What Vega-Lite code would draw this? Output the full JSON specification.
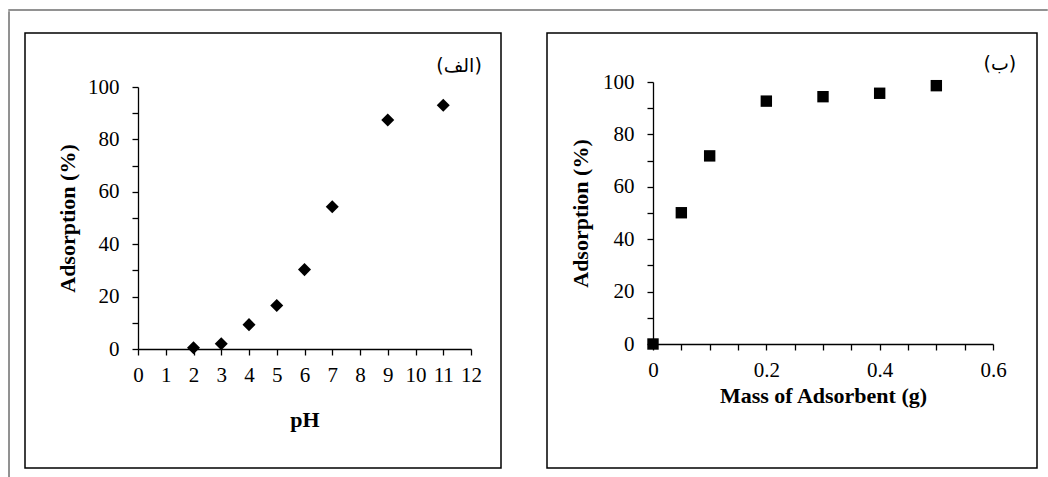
{
  "$schema": "https://vega.github.io/schema/vega-lite/v6.json",
  "padding": {"left": 8, "top": 9, "right": 0, "bottom": 0},
  "background": "white",
  "spacing": 0,
  "config": {
    "view": {"stroke": "black", "strokeWidth": 1.5},
    "axis": {
      "labelFont": "Liberation Serif", "titleFont": "Liberation Serif",
      "labelFontSize": 21, "titleFontSize": 22, "titleFontWeight": "bold",
      "labelColor": "black", "titleColor": "black", "domainColor": "black", "tickColor": "black",
      "grid": false, "tickSize": 6, "domainWidth": 1.3, "tickWidth": 1.3,
      "labelOverlap": false, "labelFlush": false
    }
  },
  "vconcat": [
    {
      "width": 1038, "height": 0.01,
      "data": {"values": []},
      "mark": "point",
      "view": {"stroke": "#6e6e6e", "strokeWidth": 1.5}
    },
    {
      "spacing": 14,
      "hconcat": [
        {
          "width": 0.01, "height": 465,
          "data": {"values": []},
          "mark": "point",
          "view": {"stroke": "#6e6e6e", "strokeWidth": 1.5}
        },
        {
          "spacing": 19,
          "vconcat": [
            {
              "width": 1, "height": 1,
              "data": {"values": []},
              "mark": "point",
              "view": {"stroke": null}
            },
            {
              "spacing": 44,
              "hconcat": [
                {
                  "width": 476, "height": 435,
                  "resolve": {"scale": {"x": "independent", "y": "independent"}, "axis": {"x": "independent", "y": "independent"}},
                  "layer": [
                    {
                      "data": {"values": [
                        {"pH": 2, "adsorption": 0.5},
                        {"pH": 3, "adsorption": 2.0},
                        {"pH": 4, "adsorption": 9.3},
                        {"pH": 5, "adsorption": 16.6},
                        {"pH": 6, "adsorption": 30.3},
                        {"pH": 7, "adsorption": 54.3},
                        {"pH": 9, "adsorption": 87.4},
                        {"pH": 11, "adsorption": 93.0}
                      ]},
                      "mark": {"type": "point", "shape": "diamond", "filled": true, "color": "black", "size": 170, "opacity": 1},
                      "encoding": {
                        "x": {"field": "pH", "type": "quantitative",
                          "scale": {"domain": [0, 12], "range": [113, 446], "nice": false, "zero": false},
                          "axis": {"title": "pH", "orient": "bottom", "values": [0,1,2,3,4,5,6,7,8,9,10,11,12], "offset": -119, "labelPadding": 9, "titlePadding": 24, "labelOverlap": false, "labelFlush": false}},
                        "y": {"field": "adsorption", "type": "quantitative",
                          "scale": {"domain": [0, 100], "range": [316, 54], "nice": false},
                          "axis": {"title": "Adsorption (%)", "orient": "left", "values": [0,10,20,30,40,50,60,70,80,90,100],
                            "labelExpr": "datum.value % 20 === 0 ? format(datum.value, 'd') : ''",
                            "offset": -113, "labelPadding": 13, "titlePadding": 8, "labelOverlap": false, "labelFlush": false}}
                      }
                    },
                    {
                      "data": {"values": [{}]},
                      "mark": {"type": "text", "text": "(الف)", "font": "DejaVu Sans", "fontSize": 19, "align": "right", "baseline": "middle", "color": "black"},
                      "encoding": {
                        "x": {"datum": 12.39, "type": "quantitative", "scale": {"domain": [0, 12], "range": [113, 446], "nice": false, "zero": false}, "axis": null},
                        "y": {"datum": 108, "type": "quantitative", "scale": {"domain": [0, 100], "range": [316, 54], "nice": false}, "axis": null}
                      }
                    }
                  ]
                },
                {
                  "width": 490, "height": 435,
                  "resolve": {"scale": {"x": "independent", "y": "independent"}, "axis": {"x": "independent", "y": "independent"}},
                  "layer": [
                    {
                      "data": {"values": [
                        {"mass": 0, "adsorption": 0},
                        {"mass": 0.05, "adsorption": 50.1},
                        {"mass": 0.1, "adsorption": 71.8},
                        {"mass": 0.2, "adsorption": 92.7},
                        {"mass": 0.3, "adsorption": 94.4},
                        {"mass": 0.4, "adsorption": 95.7},
                        {"mass": 0.5, "adsorption": 98.6}
                      ]},
                      "mark": {"type": "point", "shape": "square", "filled": true, "color": "black", "size": 130, "opacity": 1},
                      "encoding": {
                        "x": {"field": "mass", "type": "quantitative",
                          "scale": {"domain": [0, 0.6], "range": [106, 446], "nice": false, "zero": false},
                          "axis": {"title": "Mass of Adsorbent (g)", "orient": "bottom", "values": [0,0.05,0.1,0.15,0.2,0.25,0.3,0.35,0.4,0.45,0.5,0.55,0.6],
                            "labelExpr": "abs(datum.value * 5 - round(datum.value * 5)) < 0.001 ? format(datum.value, '.1~f') : ''",
                            "offset": -124, "labelPadding": 9, "titlePadding": 5, "labelOverlap": false, "labelFlush": false}},
                        "y": {"field": "adsorption", "type": "quantitative",
                          "scale": {"domain": [0, 100], "range": [311, 49], "nice": false},
                          "axis": {"title": "Adsorption (%)", "orient": "left", "values": [0,10,20,30,40,50,60,70,80,90,100],
                            "labelExpr": "datum.value % 20 === 0 ? format(datum.value, 'd') : ''",
                            "offset": -106, "labelPadding": 13, "titlePadding": 10, "labelOverlap": false, "labelFlush": false}}
                      }
                    },
                    {
                      "data": {"values": [{}]},
                      "mark": {"type": "text", "text": "(ب)", "font": "DejaVu Sans", "fontSize": 19, "align": "right", "baseline": "middle", "color": "black"},
                      "encoding": {
                        "x": {"datum": 0.641, "type": "quantitative", "scale": {"domain": [0, 0.6], "range": [106, 446], "nice": false, "zero": false}, "axis": null},
                        "y": {"datum": 107, "type": "quantitative", "scale": {"domain": [0, 100], "range": [311, 49], "nice": false}, "axis": null}
                      }
                    }
                  ]
                }
              ]
            }
          ]
        }
      ]
    }
  ]
}
